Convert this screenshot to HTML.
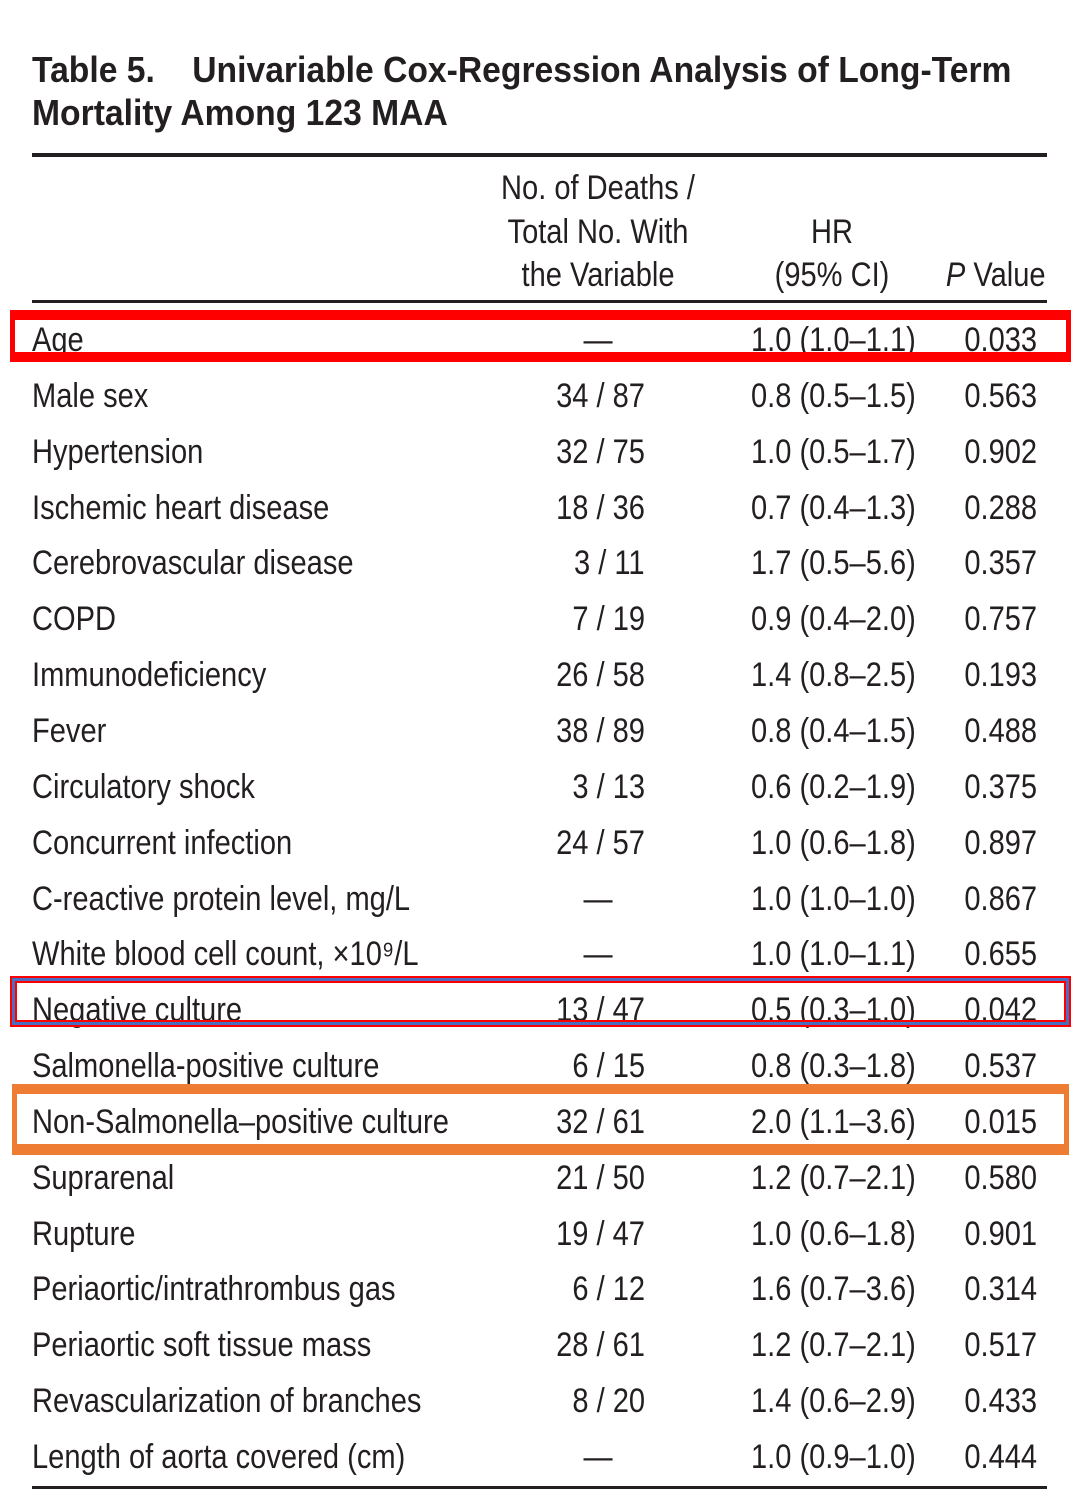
<!DOCTYPE html>
<html><head><meta charset="utf-8">
<style>
html,body{margin:0;padding:0;background:#fff;}
#page{position:relative;width:1080px;height:1490px;overflow:hidden;background:#fff;color:#231f20;font-family:"Liberation Sans Narrow","Liberation Sans",sans-serif;}
.t{position:absolute;white-space:nowrap;font-size:34px;line-height:40px;transform:scaleX(0.855);}
.L{transform-origin:left center;}
.R{transform-origin:right center;}
.C{transform-origin:center center;}
.title{position:absolute;left:32px;font-weight:bold;font-size:36px;line-height:44px;white-space:nowrap;transform:scaleX(0.935);transform-origin:left center;}
.rule{position:absolute;left:32px;width:1015px;background:#231f20;}
.box{position:absolute;box-sizing:border-box;}
</style></head>
<body>
<div id="page">
<div class="title" style="top:48px">Table 5.&nbsp;&nbsp;&nbsp; Univariable Cox-Regression Analysis of Long-Term</div>
<div class="title" style="top:91px">Mortality Among 123 MAA</div>
<div class="rule" style="top:153px;height:4px"></div>
<div class="t C" style="left:478px;width:240px;text-align:center;top:168px">No. of Deaths /</div>
<div class="t C" style="left:478px;width:240px;text-align:center;top:212px">Total No. With</div>
<div class="t C" style="left:478px;width:240px;text-align:center;top:255px">the Variable</div>
<div class="t C" style="left:732px;width:200px;text-align:center;top:212px">HR</div>
<div class="t C" style="left:732px;width:200px;text-align:center;top:255px">(95% CI)</div>
<div class="t R" style="right:34px;text-align:right;top:255px"><i>P</i> Value</div>
<div class="rule" style="top:300px;height:3px"></div>
<div id="rows"></div>
<div class="rule" style="top:1486px;height:3px"></div>
<div class="box" style="left:10px;top:310px;width:1061px;height:52px;border:solid #ff0000;border-width:10px 5px 10px 5px"></div>
<div class="box" style="left:10px;top:976px;width:1061px;height:51px;border:2px solid #ff0000;box-shadow:inset 0 0 0 3px #4a6fc0, inset 0 0 0 5px #ff0000"></div>
<div class="box" style="left:12px;top:1084px;width:1057px;height:71px;border:solid #ee7d33;border-width:10px 5px 11px 5px"></div>
</div>
<script>
const labels=["Age","Male sex","Hypertension","Ischemic heart disease","Cerebrovascular disease","COPD","Immunodeficiency","Fever","Circulatory shock","Concurrent infection","C-reactive protein level, mg/L","White blood cell count, ×10⁹/L","Negative culture","Salmonella-positive culture","Non-Salmonella–positive culture","Suprarenal","Rupture","Periaortic/intrathrombus gas","Periaortic soft tissue mass","Revascularization of branches","Length of aorta covered (cm)"];
const deaths=["—","34 / 87","32 / 75","18 / 36","3 / 11","7 / 19","26 / 58","38 / 89","3 / 13","24 / 57","—","—","13 / 47","6 / 15","32 / 61","21 / 50","19 / 47","6 / 12","28 / 61","8 / 20","—"];
const hrs=["1.0 (1.0–1.1)","0.8 (0.5–1.5)","1.0 (0.5–1.7)","0.7 (0.4–1.3)","1.7 (0.5–5.6)","0.9 (0.4–2.0)","1.4 (0.8–2.5)","0.8 (0.4–1.5)","0.6 (0.2–1.9)","1.0 (0.6–1.8)","1.0 (1.0–1.0)","1.0 (1.0–1.1)","0.5 (0.3–1.0)","0.8 (0.3–1.8)","2.0 (1.1–3.6)","1.2 (0.7–2.1)","1.0 (0.6–1.8)","1.6 (0.7–3.6)","1.2 (0.7–2.1)","1.4 (0.6–2.9)","1.0 (0.9–1.0)"];
const pvals=["0.033","0.563","0.902","0.288","0.357","0.757","0.193","0.488","0.375","0.897","0.867","0.655","0.042","0.537","0.015","0.580","0.901","0.314","0.517","0.433","0.444"];
const rows=document.getElementById('rows');
function cell(txt,top,cls,style){const d=document.createElement('div');d.className='t '+cls;d.textContent=txt;d.style.top=top+'px';Object.assign(d.style,style);rows.appendChild(d);return d;}
labels.forEach((lab,i)=>{
  const top=320+i*55.85;
  const a=cell(lab,top,'L',{left:'32px'});
  
  
  const dv=deaths[i];
  const b=dv==='—'?cell(dv,top,'C',{left:'548px',width:'100px',textAlign:'center'}):cell(dv,top,'R',{right:(1080-645)+'px',textAlign:'right'});
  
  
  const c=cell(hrs[i],top,'R',{right:(1080-916)+'px',textAlign:'right'});
  
  
  const p=cell(pvals[i],top,'R',{right:(1080-1037)+'px',textAlign:'right'});
  
  
});
</script>
</body></html>
